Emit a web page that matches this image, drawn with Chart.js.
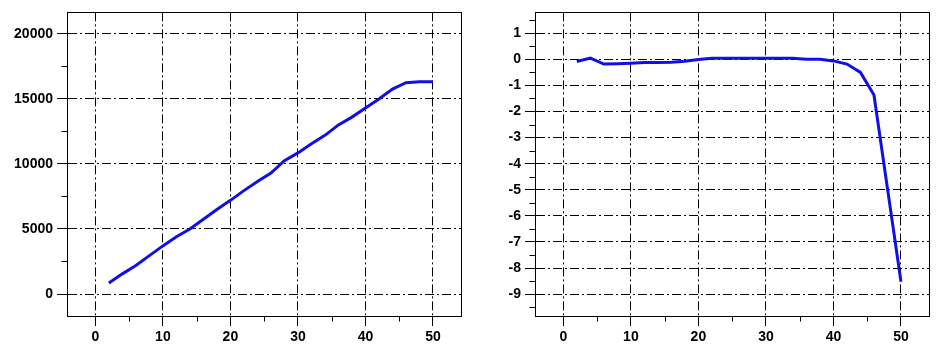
<!DOCTYPE html>
<html><head><meta charset="utf-8">
<script src="https://cdn.jsdelivr.net/npm/chart.js@4"></script>
<style>
html,body{margin:0;padding:0;background:#fff;}
#w{position:relative;width:951px;height:358px;background:#fff;}
canvas{position:absolute;top:0;}
</style></head><body>
<div id="w">
<canvas id="c1" width="475" height="358" style="left:0"></canvas>
<canvas id="c2" width="483" height="358" style="left:468px"></canvas>
</div>
<script>
const xValues = [2,4,6,8,10,12,14,16,18,20,22,24,26,28,30,32,34,36,38,40,42,44,46,48,50];
const cumulative = [850,1550,2200,2950,3700,4400,5000,5750,6500,7200,7950,8650,9300,10250,10850,11550,12200,13000,13600,14300,15000,15750,16250,16320,16320];
const deviation = [-0.08,0.05,-0.18,-0.17,-0.15,-0.12,-0.12,-0.11,-0.07,-0.01,0.04,0.04,0.04,0.04,0.04,0.04,0.04,0.0,0.0,-0.06,-0.18,-0.5,-1.37,-4.95,-8.53];
const xTicks = [0,10,20,30,40,50];
const xMinor = [5,15,25,35,45];
const leftYTicks = [0,5000,10000,15000,20000];
const leftYMinor = [2500,7500,12500,17500];
const rightYTicks = [1,0,-1,-2,-3,-4,-5,-6,-7,-8,-9];
const rightYMinor = [1.5,0.5,-0.5,-1.5,-2.5,-3.5,-4.5,-5.5,-6.5,-7.5,-8.5,-9.5];

const framePlugin = {
  id: 'frame',
  afterDraw(chart, args, opts) {
    const {ctx, chartArea: a, scales: {x, y}} = chart;
    ctx.save();
    ctx.strokeStyle = '#000';
    ctx.lineWidth = 1;
    ctx.setLineDash([]);
    const l = Math.round(a.left) + 0.5, t = Math.round(a.top) + 0.5;
    const r = Math.round(a.right) + 0.5, b = Math.round(a.bottom) + 0.5;
    ctx.strokeRect(l, t, r - l, b - t);
    ctx.beginPath();
    for (const v of opts.xMinor) {
      const px = Math.round(x.getPixelForValue(v)) + 0.5;
      ctx.moveTo(px, b); ctx.lineTo(px, b + 5);
    }
    for (const v of opts.yMinor) {
      const py = Math.round(y.getPixelForValue(v)) + 0.5;
      ctx.moveTo(l, py); ctx.lineTo(l - 6, py);
    }
    ctx.stroke();
    ctx.restore();
  }
};

const tickFont = {family: '"Liberation Sans", Arial, sans-serif', weight: 'bold', size: 14};
const dash = [9, 3, 2, 3];

function makeChart(id, data, yMin, yMax, yTicks, yMinor, padRight) {
  return new Chart(document.getElementById(id), {
    type: 'line',
    data: {
      datasets: [{
        data: xValues.map((v, i) => ({x: v, y: data[i]})),
        borderColor: '#1010e6',
        borderWidth: 3,
        pointRadius: 0,
        tension: 0,
        fill: false
      }]
    },
    options: {
      responsive: false,
      animation: false,
      layout: {padding: {left: 0, right: padRight, top: 12, bottom: 0}},
      plugins: {
        legend: {display: false},
        tooltip: {enabled: false},
        frame: {xMinor: xMinor, yMinor: yMinor}
      },
      scales: {
        x: {
          type: 'linear',
          min: -4.2, max: 54.15,
          afterBuildTicks: s => { s.ticks = xTicks.map(v => ({value: v})); },
          afterFit: s => { s.height = 42; },
          grid: {color: '#000', lineWidth: 1, tickLength: 10, tickColor: '#000', tickBorderDash: []},
          border: {display: true, color: '#000', width: 1, dash: dash},
          ticks: {color: '#000', font: tickFont, padding: 3, maxRotation: 0, autoSkip: false}
        },
        y: {
          type: 'linear',
          min: yMin, max: yMax,
          afterBuildTicks: s => { s.ticks = yTicks.map(v => ({value: v})); },
          afterFit: s => { s.width = 67; },
          grid: {color: '#000', lineWidth: 1, tickLength: 10, tickColor: '#000', tickBorderDash: []},
          border: {display: true, color: '#000', width: 1, dash: dash},
          ticks: {color: '#000', font: tickFont, padding: 4, autoSkip: false, callback: v => String(v)}
        }
      }
    },
    plugins: [framePlugin]
  });
}

makeChart('c1', cumulative, -1690, 21650, leftYTicks, leftYMinor, 14);
makeChart('c2', deviation, -9.84, 1.8, rightYTicks, rightYMinor, 22);
</script>
</body></html>
